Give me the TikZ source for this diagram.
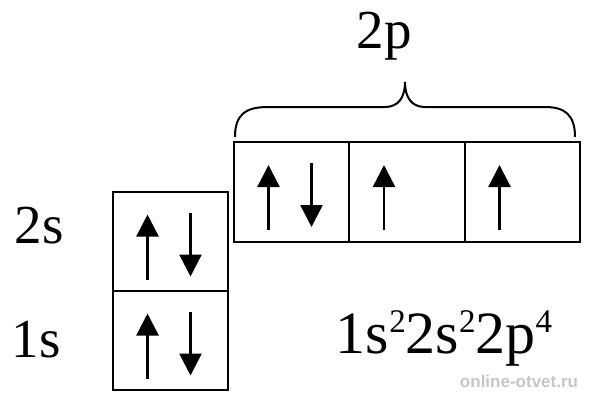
\documentclass[tikz,border=0pt]{standalone}
\usepackage{fontspec}
\setmainfont{Liberation Serif}
\setsansfont{Liberation Sans}
\usetikzlibrary{arrows.meta}
\newcommand{\esup}[1]{\raisebox{21pt}{\fontsize{33}{35}\selectfont #1}}
\tikzset{
  orbital/.style={draw, line width=2.4pt, minimum width=115.5pt, minimum height=99pt, inner sep=0pt},
  spin/.style={line width=2.4pt, -{Triangle[width=22pt,length=22pt]}},
  label/.style={inner sep=0pt, anchor=base, font=\fontsize{55}{60}\selectfont}
}
\begin{document}
\begin{tikzpicture}[x=1pt, y=-1pt]
  \useasboundingbox (0,0) rectangle (596,400);

  % s orbitals
  \node[orbital] (s2) at (170.5,241.5) {};
  \node[orbital] (s1) at (170.5,340.5) {};

  % p orbitals
  \node[orbital, minimum height=100pt] (p1) at (291.5,192) {};
  \node[orbital, minimum height=100pt] (p2) at (407,192) {};
  \node[orbital, minimum height=100pt] (p3) at (522.5,192) {};

  % electrons
  \foreach \b in {s1,s2,p1,p2,p3}
    \draw[spin] ([shift={(-23,38)}]\b.center) -- ([shift={(-23,-27)}]\b.center);
  \foreach \b in {s1,s2,p1}
    \draw[spin] ([shift={(20,-29)}]\b.center) -- ([shift={(20,35)}]\b.center);

  % brace over 2p
  \draw[line width=2pt] (235,137) .. controls (235,115) and (245,107) .. (268,107)
    -- (385,107) .. controls (398,107) and (405,98) .. (405,82)
    .. controls (405,98) and (412,107) .. (425,107)
    -- (545,107) .. controls (565,107) and (575,115) .. (575,137);

  % labels
  \node[label] (l2p) at (384,48) {2p};
  \node[label] (l2s) at (39,243) {2s};
  \node[label] (l1s) at (36,357) {1s};
  \node[label, font=\fontsize{60}{64}\selectfont] (config) at (444,353)
    {1s\esup{2}2s\esup{2}2p\esup{4}};

  \node[inner sep=0pt, text=gray!45, font=\sffamily\bfseries\fontsize{17}{20}\selectfont] (mark) at (519,381) {online-otvet.ru};
\end{tikzpicture}
\end{document}
